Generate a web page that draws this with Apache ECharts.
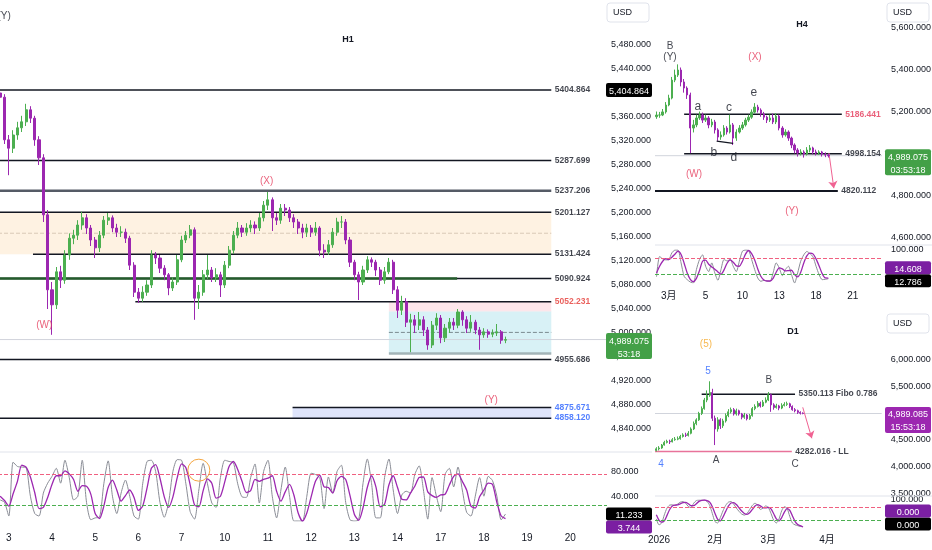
<!DOCTYPE html>
<html><head><meta charset="utf-8">
<script src="https://cdn.jsdelivr.net/npm/echarts/dist/echarts.min.js"></script>
<style>html,body{margin:0;padding:0;background:#fff}#c{width:932px;height:550px}</style>
</head><body><div id="c"></div>
<script>
// ================= DATA =================
// H1 panel
const h1DayLabels = ['3','4','5','6','7','10','11','12','13','14','17','18','19','20'];
const h1FirstOpen = 5400;
const h1Close = [
5393,5322,5308,5330,5342,5352,5372,5358,5322,5292,
5197,5072,5047,5102,5088,5130,5158,5163,5180,5192,
5175,5155,5142,5163,5188,5192,5175,5168,5168,5158,
5113,5068,5058,5068,5080,5130,5125,5108,5097,5075,
5085,5122,5155,5163,5172,5058,5068,5097,5105,5092,
5097,5080,5113,5138,5163,5175,5168,5175,5180,5175,
5192,5213,5222,5192,5188,5208,5205,5192,5185,5175,
5168,5175,5168,5175,5138,5135,5147,5168,5185,5185,
5155,5118,5097,5085,5105,5122,5118,5105,5088,5102,
5118,5072,5038,5052,5018,5022,5013,5022,5005,4980,
5013,5025,4992,5008,5018,5013,5035,5022,5008,5018,
5005,4997,5002,4998,5000,5002,4988,4989.075];
const h1High = [
5415,5398,5330,5338,5352,5362,5382,5378,5362,5328,
5298,5205,5085,5110,5112,5138,5166,5172,5188,5202,
5198,5180,5160,5170,5195,5200,5196,5182,5178,5174,
5162,5118,5075,5078,5088,5138,5135,5130,5113,5100,
5093,5130,5162,5170,5180,5176,5080,5105,5130,5110,
5108,5102,5120,5145,5170,5185,5180,5183,5188,5186,
5200,5220,5235,5226,5200,5215,5215,5210,5198,5190,
5182,5182,5180,5185,5178,5148,5155,5175,5192,5195,
5190,5160,5122,5102,5112,5128,5126,5122,5110,5110,
5125,5122,5078,5062,5058,5032,5030,5035,5028,5010,
5020,5033,5030,5015,5025,5025,5040,5038,5028,5030,
5022,5010,5008,5006,5006,5015,5005,4994];
const h1Low = [
5386,5315,5263,5300,5322,5335,5345,5350,5312,5280,
5185,5040,4997,5040,5075,5082,5122,5148,5155,5172,
5165,5145,5125,5135,5158,5180,5168,5160,5160,5150,
5105,5060,5050,5052,5062,5075,5115,5100,5088,5063,
5070,5080,5118,5150,5158,5022,5040,5062,5090,5085,
5085,5060,5075,5108,5132,5158,5160,5162,5168,5165,
5170,5186,5205,5170,5180,5182,5195,5185,5175,5165,
5158,5160,5160,5162,5128,5125,5130,5142,5162,5175,
5148,5110,5088,5055,5080,5100,5110,5095,5080,5082,
5098,5065,5025,5030,5010,4968,5000,5005,4995,4972,
4975,5005,4983,4985,5000,5005,5008,5012,5000,5002,
4998,4972,4992,4992,4993,4995,4982,4983];
const h1K = [
34,30,8,95,88,87,86,40,12,8,
45,61,72,85,61,98,70,34,40,98,
30,2,5,6,60,97,40,12,45,66,
40,8,3,60,96,98,80,30,6,30,
80,99,98,60,15,3,50,93,60,29,
22,70,98,96,94,60,39,38,70,92,
29,80,98,40,5,50,87,40,0,0,
0,40,77,75,70,20,71,45,80,90,
30,2,0,2,60,100,60,5,5,70,
100,50,12,42,48,45,75,89,50,3,
70,40,15,75,85,55,87,50,14,8,
40,70,40,72,65,40,2,11.233];
const h1D = [
40,33,24,44,64,90,87,71,46,20,
22,38,59,73,73,81,76,67,48,57,
56,43,12,4,24,54,66,50,32,41,
50,38,17,24,53,85,91,69,39,22,
39,70,92,86,58,26,23,49,68,61,
37,40,63,88,96,83,64,46,49,67,
64,67,69,73,48,32,47,59,42,13,
0,13,39,64,74,55,54,45,65,72,
67,41,11,1,21,54,73,55,23,27,
58,73,54,35,34,45,56,70,71,47,
41,38,42,43,58,72,76,64,50,24,
21,39,50,61,59,30,8,3.744];
const h1Levels = [5404.864, 5287.699, 5237.206, 5201.127, 5131.424, 5090.924, 5052.231, 4955.686, 4875.671, 4858.120];
const h1PeachZone = [5201.127, 5131.424];
const h1PinkZone = [5052.231, 5036];
const h1CyanZone = [5036, 4966];
const h1BlueZone = [4875.671, 4858.120];

// H4 panel
const h4DayLabels = ['3月','5','10','13','18','21'];
const h4FirstOpen = 5175;
const h4Close = [
5183,5183,5198,5231,5264,5350,5374,5398,5341,5312,
5279,5121,5136,5169,5183,5159,5169,5136,5150,5112,
5078,5088,5121,5102,5136,5073,5102,5121,5136,5159,
5173,5197,5221,5207,5188,5173,5159,5169,5150,5178,
5121,5088,5102,5073,5040,5016,5002,5007,4997,5016,
5026,5007,5002,5007,4997,4992,4989.075];
const h4High = [
5200,5198,5212,5245,5280,5365,5400,5425,5410,5355,
5320,5290,5160,5185,5200,5195,5185,5178,5165,5160,
5120,5105,5135,5130,5185,5145,5115,5135,5150,5170,
5185,5210,5240,5232,5215,5198,5180,5185,5190,5192,
5185,5130,5115,5110,5080,5048,5025,5020,5015,5030,
5040,5032,5018,5015,5012,5005,4998];
const h4Low = [
5165,5170,5178,5190,5225,5258,5340,5365,5320,5290,
5260,5001,5100,5125,5160,5145,5150,5120,5125,5095,
5060,5065,5080,5090,5095,5040,5060,5095,5112,5128,
5150,5165,5190,5195,5175,5160,5145,5150,5140,5140,
5110,5075,5080,5060,5025,5000,4985,4990,4980,4990,
5005,4995,4990,4992,4985,4982,4980];
const h4K = [19,79,72,69,70,90,98,98,60,20,10,3,0,40,70,84,50,34,60,30,8,40,70,66,70,50,34,65,95,98,97,70,40,15,5,8,6,5,30,60,45,22,40,50,25,0,30,65,84,94,88,78,50,25,10,11,12.786];
const h4D = [30,50,65,73,70,77,86,95,85,59,30,11,4,14,37,65,68,56,48,41,33,26,39,59,69,62,51,50,65,86,97,88,69,42,20,9,6,6,14,32,45,42,36,37,38,25,18,32,60,81,89,87,72,51,28,15,14.608];
const h4Levels = [5186.441, 4998.154, 4820.112];
const h4Swing = [[19.6, 5059], [25.0, 5048]];
const h4Arrow = [[56.2, 5002], [57.8, 4834]];

// D1 panel
const d1MonthLabels = ['2026','2月','3月','4月'];
const d1FirstOpen = 4300;
const d1Close = [
4330,4345,4400,4450,4470,4460,4500,4510,4520,4560,
4590,4580,4620,4700,4800,4870,4990,5080,5240,5330,
5380,4900,4700,4870,4760,4850,4950,5020,5060,4980,
5040,4980,4920,4960,4890,4950,5080,5120,5180,5130,
5200,5240,5340,5150,5100,5130,5090,5140,5160,5170,
5120,5060,5040,5010,4995,4989.085];
const d1High = [
4360,4380,4420,4480,4500,4500,4530,4550,4560,4590,
4620,4630,4660,4730,4840,4900,5020,5120,5280,5420,
5590,5450,4950,4920,4900,4890,4990,5070,5100,5090,
5080,5060,5000,5000,4980,4980,5110,5160,5220,5210,
5240,5290,5390,5360,5180,5170,5150,5180,5200,5210,
5190,5140,5090,5060,5030,5010];
const d1Low = [
4280,4300,4330,4390,4430,4420,4450,4480,4490,4500,
4540,4550,4560,4600,4680,4770,4850,4960,5060,5200,
5300,4850,4400,4650,4700,4720,4820,4920,4990,4950,
4950,4950,4880,4890,4860,4870,4930,5050,5100,5100,
5110,5180,5220,5020,5060,5080,5050,5070,5120,5130,
5090,5040,5010,4980,4970,4975];
const d1K = [30,8,15,45,70,81,82,80,85,92,94,88,76,72,88,98,100,100,100,95,80,50,20,15,35,60,80,92,94,85,70,58,48,44,50,65,80,88,80,65,70,78,72,50,25,15,30,60,75,70,40,15,8,5,2,0];
const d1D = [45,25,18,23,43,65,78,81,82,86,90,91,86,79,79,86,95,99,100,98,92,75,50,28,23,37,58,77,89,90,83,71,59,50,47,53,65,78,83,78,72,71,73,67,49,30,23,35,55,68,62,42,21,9,5,0];
const d1Levels = [5350.113, 4282.016];
const d1Arrow = [[54.9, 5104], [58.3, 4526]];

// ================= LAYOUT / STYLE =================
const FF = "'Liberation Sans',Arial,'Noto Sans CJK JP',sans-serif";
const TXT = '#131722', UP = '#4caf50', DOWN = '#9c27b0', RED = '#e5395a', BLUE = '#2962ff';
const N1 = 141, N4 = 74, ND = 85;

function ohlc(first, c, h, l) { return c.map((v, i) => [i ? c[i - 1] : first, v, l[i], h[i]]); }
function cats(n) { return Array.from({length: n}, (_, i) => 's' + i); }
function labelMap(pos, labels) { const m = {}; pos.forEach((p, k) => m[p] = labels[k]); return m; }
const fmtPrice = v => v.toLocaleString('en-US', {minimumFractionDigits: 3, maximumFractionDigits: 3});

const h1Lab = labelMap(h1DayLabels.map((_, k) => 2 + 10 * k), h1DayLabels);
const h4Lab = labelMap([4, 16, 28, 40, 52, 64], h4DayLabels);
const d1Lab = labelMap([1, 22, 42, 64], d1MonthLabels);

function seg(xi, yi, x0, x1, p, color, w, dashed, extra) {
  return Object.assign({type: 'line', xAxisIndex: xi, yAxisIndex: yi, data: [[x0, p], [x1, p]],
    symbol: 'none', silent: true, z: 3, lineStyle: {color: color, width: w, type: dashed ? 'dashed' : 'solid'}}, extra || {});
}
function texts(xi, yi, items) {
  return {type: 'scatter', xAxisIndex: xi, yAxisIndex: yi, symbolSize: 1, silent: true, clip: false, z: 10,
    itemStyle: {color: 'rgba(0,0,0,0)'},
    data: items.map(t => ({value: [t.x, t.p], label: {show: true, position: t.pos || 'inside', distance: 3,
      formatter: t.t, color: t.c || TXT, fontSize: t.s || 10, fontWeight: t.b ? 'bold' : 'normal', fontFamily: FF}}))};
}
function candles(xi, yi, data, bw) {
  return {type: 'candlestick', xAxisIndex: xi, yAxisIndex: yi, data: data, barWidth: bw, silent: true, z: 5,
    itemStyle: {color: UP, color0: DOWN, borderColor: UP, borderColor0: DOWN, borderWidth: 1}};
}
function stoch(xi, yi, k, d, extraMarks) {
  return [
    {type: 'line', xAxisIndex: xi, yAxisIndex: yi, data: k, symbol: 'none', silent: true, smooth: 0.25,
      lineStyle: {color: '#8a8d96', width: 1},
      markLine: {silent: true, symbol: 'none', label: {show: false},
        data: [{yAxis: 75, lineStyle: {color: '#f06080', type: 'dashed', width: 1}},
               {yAxis: 25, lineStyle: {color: '#4caf50', type: 'dashed', width: 1}}]},
      markPoint: extraMarks},
    {type: 'line', xAxisIndex: xi, yAxisIndex: yi, data: d, symbol: 'none', silent: true, smooth: 0.25,
      lineStyle: {color: '#9c27b0', width: 1.3}}
  ];
}
function priceAxis(gi, min, max, interval, lo, hi, margin) {
  return {type: 'value', gridIndex: gi, position: 'right', min: min, max: max, interval: interval, z: 1,
    splitLine: {show: false}, axisLine: {show: false}, axisTick: {show: false},
    axisLabel: {align: 'left', margin: margin, fontSize: 9, color: TXT, fontFamily: FF,
      formatter: v => (v >= lo && v <= hi) ? fmtPrice(v) : ''}};
}
function stochAxis(gi, interval, show, margin) {
  return {type: 'value', gridIndex: gi, position: 'right', min: 0, max: 100, interval: interval, z: 1,
    splitLine: {show: false}, axisLine: {show: false}, axisTick: {show: false},
    axisLabel: {align: 'left', margin: margin, fontSize: 9, color: TXT, fontFamily: FF,
      formatter: v => show.indexOf(v) >= 0 ? v.toFixed(3) : ''}};
}
function catAxis(gi, n, lab, margin) {
  const a = {type: 'category', gridIndex: gi, data: cats(n), boundaryGap: true,
    axisLine: {show: false}, axisTick: {show: false}, splitLine: {show: false}};
  if (lab) a.axisLabel = {interval: 0, margin: margin, fontSize: 10, color: TXT, fontFamily: FF,
    formatter: (v, i) => lab[i] || ''};
  else a.axisLabel = {show: false};
  return a;
}
function valAxis(gi, n) { return {type: 'value', gridIndex: gi, min: -0.5, max: n - 0.5, show: false, splitLine: {show: false}}; }

const G = (left, top, width, height) => ({left: left, top: top, width: width, height: height, outerBoundsMode: 'none', containLabel: false});

// ---- H1 series ----
const L = h1Levels, H1END = 127.6, LS = 8.5;
const h1Series = [
  candles(0, 0, ohlc(h1FirstOpen, h1Close, h1High, h1Low), '60%'),
  seg(1, 0, -0.5, N1 - 0.5, h1Close[h1Close.length - 1], '#d1d4dc', 1, false, {z: 1}),
  seg(1, 0, -0.5, H1END, L[0], '#131722', 1.5),
  seg(1, 0, -0.5, H1END, L[1], '#131722', 1.5),
  seg(1, 0, -0.5, H1END, L[2], '#555b66', 2.5),
  seg(1, 0, -0.5, H1END, L[3], '#131722', 1.5, false, {
    markArea: {silent: true, data: [
      [{coord: [-0.5, h1PeachZone[0]], itemStyle: {color: 'rgba(253,226,190,0.45)'}}, {coord: [H1END, h1PeachZone[1]]}],
      [{coord: [90, h1PinkZone[0]], itemStyle: {color: 'rgba(252,210,218,0.55)'}}, {coord: [H1END, h1PinkZone[1]]}],
      [{coord: [90, h1CyanZone[0]], itemStyle: {color: 'rgba(178,228,238,0.5)'}}, {coord: [H1END, h1CyanZone[1]]}],
      [{coord: [67.7, h1BlueZone[0]], itemStyle: {color: 'rgba(190,202,248,0.5)'}}, {coord: [H1END, h1BlueZone[1]]}]
    ]}}),
  seg(1, 0, -0.5, H1END, (h1PeachZone[0] + h1PeachZone[1]) / 2, '#d9c9b6', 1, true),
  seg(1, 0, 90, H1END, (h1CyanZone[0] + h1CyanZone[1]) / 2, '#7a8a90', 1, true),
  seg(1, 0, 90, H1END, h1CyanZone[1], '#a3b4b8', 2.5),
  seg(1, 0, 7.6, H1END, L[4], '#131722', 1.5),
  seg(1, 0, -0.5, H1END, L[5], '#131722', 1.5),
  seg(1, 0, -0.5, 105.8, L[5], '#245c2c', 2.5),
  seg(1, 0, 31.3, H1END, L[6], '#131722', 1.5),
  seg(1, 0, -0.5, H1END, L[7], '#131722', 1.5),
  seg(1, 0, 67.7, H1END, L[8], '#131722', 1.5),
  seg(1, 0, -0.5, H1END, L[9], '#131722', 1.5),
  texts(1, 0, L.map((v, i) => ({x: H1END, p: v, t: v.toFixed(3), pos: 'right', s: LS, b: true,
    c: i === 6 ? '#e53935' : (i >= 8 ? BLUE : TXT)}))),
  texts(1, 0, [
    {x: 0.9, p: 5528, t: '(Y)'},
    {x: 61.7, p: 5253, t: '(X)', c: RED},
    {x: 10.2, p: 5013, t: '(W)', c: RED},
    {x: 113.7, p: 4888, t: '(Y)', c: RED}
  ]),
  ...stoch(2, 1, h1K, h1D, {silent: true, label: {show: false}, data: [{coord: [46, 82], symbol: 'circle', symbolSize: 22,
    itemStyle: {color: 'rgba(0,0,0,0)', borderColor: '#f5a640', borderWidth: 1}}]})
];

// ---- H4 series ----
const h4Series = [
  candles(3, 2, ohlc(h4FirstOpen, h4Close, h4High, h4Low), '62%'),
  seg(4, 2, -0.5, N4 - 0.5, h4Close[h4Close.length - 1], '#d1d4dc', 1, false, {z: 1,
    markLine: {silent: true, symbol: ['none', 'arrow'], symbolSize: 7, label: {show: false},
      lineStyle: {color: '#f06292', width: 1, type: 'solid'},
      data: [[{coord: h4Arrow[0]}, {coord: h4Arrow[1]}]]}}),
  seg(4, 2, 9.0, 60.4, h4Levels[0], '#131722', 1.5),
  seg(4, 2, 9.0, 60.4, h4Levels[1], '#131722', 1.5),
  seg(4, 2, -0.5, 59.1, h4Levels[2], '#131722', 2),
  {type: 'line', xAxisIndex: 4, yAxisIndex: 2, data: h4Swing, symbol: 'none', silent: true, z: 6,
    lineStyle: {color: '#131722', width: 1.2}},
  texts(4, 2, [
    {x: 60.4, p: h4Levels[0], t: h4Levels[0].toFixed(3), pos: 'right', s: LS, b: true, c: RED},
    {x: 60.4, p: h4Levels[1], t: h4Levels[1].toFixed(3), pos: 'right', s: LS, b: true},
    {x: 59.1, p: h4Levels[2], t: h4Levels[2].toFixed(3), pos: 'right', s: LS, b: true},
    {x: 4.4, p: 5513, t: 'B'}, {x: 4.4, p: 5460, t: '(Y)'},
    {x: 32.1, p: 5460, t: '(X)', c: RED},
    {x: 13.5, p: 5221, t: 'a', s: 12}, {x: 23.6, p: 5217, t: 'c', s: 12}, {x: 31.7, p: 5288, t: 'e', s: 12},
    {x: 18.7, p: 5002, t: 'b', s: 12}, {x: 25.2, p: 4978, t: 'd', s: 12},
    {x: 12.2, p: 4901, t: '(W)', c: RED}, {x: 44.1, p: 4725, t: '(Y)', c: RED}
  ]),
  ...stoch(5, 3, h4K, h4D)
];

// ---- D1 series ----
const d1Series = [
  candles(6, 4, ohlc(d1FirstOpen, d1Close, d1High, d1Low), '65%'),
  seg(7, 4, -0.5, ND - 0.5, d1Close[d1Close.length - 1], '#d1d4dc', 1, false, {z: 1,
    markLine: {silent: true, symbol: ['none', 'arrow'], symbolSize: 7, label: {show: false},
      lineStyle: {color: '#f06292', width: 1, type: 'solid'},
      data: [[{coord: d1Arrow[0]}, {coord: d1Arrow[1]}]]}}),
  seg(7, 4, 17.0, 52.0, d1Levels[0], '#131722', 1.5),
  seg(7, 4, -0.5, 50.8, d1Levels[1], '#e8739a', 1.5),
  texts(7, 4, [
    {x: 52.0, p: d1Levels[0], t: d1Levels[0].toFixed(3) + ' Fibo 0.786', pos: 'right', s: LS, b: true},
    {x: 50.8, p: d1Levels[1], t: d1Levels[1].toFixed(3) + ' - LL', pos: 'right', s: LS, b: true},
    {x: 18.6, p: 6285, t: '(5)', c: '#f5a623'},
    {x: 19.4, p: 5782, t: '5', c: BLUE},
    {x: 42.2, p: 5614, t: 'B'},
    {x: 1.75, p: 4047, t: '4', c: BLUE},
    {x: 22.4, p: 4121, t: 'A'},
    {x: 52.0, p: 4047, t: 'C'}
  ]),
  ...stoch(8, 5, d1K, d1D)
];

const option = {
  animation: false,
  backgroundColor: '#ffffff',
  grid: [
    G(-2, -3, 609, 456),      // H1 price
    G(-2, 459, 609, 62),      // H1 stoch
    G(655, -14.2, 227, 293.3),// H4 price
    G(655, 249.5, 227, 33.5), // H4 stoch
    G(655, 332.5, 226.7, 187.6), // D1 price
    G(655, 500, 226.7, 27)    // D1 stoch
  ],
  xAxis: [
    catAxis(0, N1, null), valAxis(0, N1), catAxis(1, N1, h1Lab, 12),
    catAxis(2, N4, null), valAxis(2, N4), catAxis(3, N4, h4Lab, 8),
    catAxis(4, ND, null), valAxis(4, ND), catAxis(5, ND, d1Lab, 8)
  ],
  yAxis: [
    priceAxis(0, 4800, 5560, 40, 4840, 5480, 4),
    stochAxis(1, 40, [40, 80], 4),
    priceAxis(2, 4400, 5800, 200, 4600, 5600, 9),
    stochAxis(3, 50, [100], 9),
    priceAxis(4, 3000, 6500, 500, 3500, 6000, 9),
    stochAxis(5, 50, [100], 9)
  ],
  series: [...h1Series, ...h4Series, ...d1Series]
};

const chart = echarts.init(document.getElementById('c'), null, {renderer: 'canvas'});
chart.setOption(option);

// ---- overlays: titles, USD boxes, separators, price badges ----
const py = (yi, v) => chart.convertToPixel({yAxisIndex: yi}, v);
function badge(x, yc, w, lines, bg, lh) {
  lh = lh || 13;
  return [
    {type: 'rect', z: 200, zlevel: 1, shape: {x: x, y: yc - lh / 2, width: w, height: lh * lines.length, r: 2}, style: {fill: bg}},
    {type: 'text', z: 201, zlevel: 1, style: {text: lines.join('\n'), x: x + w / 2, y: yc - lh / 2 + 1.5, fill: '#ffffff',
      font: '9px ' + FF, align: 'center', verticalAlign: 'top', lineHeight: lh}}
  ];
}
function usd(x, y) {
  return [
    {type: 'rect', z: 200, zlevel: 1, shape: {x: x, y: y, width: 42, height: 19, r: 3}, style: {fill: '#fff', stroke: '#e0e3eb', lineWidth: 1}},
    {type: 'text', z: 201, zlevel: 1, style: {text: 'USD', x: x + 6, y: y + 10, fill: TXT, font: '9px ' + FF, verticalAlign: 'middle'}}
  ];
}
function title(t, x, y) { return [{type: 'text', z: 200, style: {text: t, x: x, y: y, fill: TXT, font: 'bold 9px ' + FF, align: 'center', verticalAlign: 'middle'}}]; }
function hline(x1, x2, y) { return [{type: 'line', z: 50, shape: {x1: x1, y1: y, x2: x2, y2: y}, style: {stroke: '#e0e3eb', lineWidth: 1}}]; }

const last = a => a[a.length - 1];
const gfx = [].concat(
  hline(0, 652, 452), hline(655, 932, 245), hline(655, 932, 496),
  title('H1', 348, 40), title('H4', 802, 25), title('D1', 793, 332),
  usd(607, 3), usd(887, 3), usd(887, 314),
  badge(606, py(0, h1Levels[0]), 46, [fmtPrice(h1Levels[0])], '#000000', 14),
  badge(606, py(0, last(h1Close)), 46, [fmtPrice(last(h1Close)), '53:18'], '#43a047'),
  badge(606, py(1, last(h1K)), 46, [last(h1K).toFixed(3)], '#000000'),
  badge(606, py(1, last(h1K)) + 13, 46, [last(h1D).toFixed(3)], '#7b1fa2'),
  badge(885, py(2, last(h4Close)), 46, [fmtPrice(last(h4Close)), '03:53:18'], '#43a047'),
  badge(885, py(3, last(h4K)) + 2, 46, [last(h4K).toFixed(3)], '#000000'),
  badge(885, py(3, last(h4K)) - 11, 46, [last(h4D).toFixed(3)], '#7b1fa2'),
  badge(885, py(4, last(d1Close)), 46, [fmtPrice(last(d1Close)), '15:53:18'], '#9c27b0'),
  badge(885, py(5, last(d1K)) - 3, 46, [last(d1K).toFixed(3)], '#000000'),
  badge(885, py(5, last(d1K)) - 16, 46, [last(d1D).toFixed(3)], '#7b1fa2')
);
chart.setOption({graphic: gfx});
</script>
</body></html>
